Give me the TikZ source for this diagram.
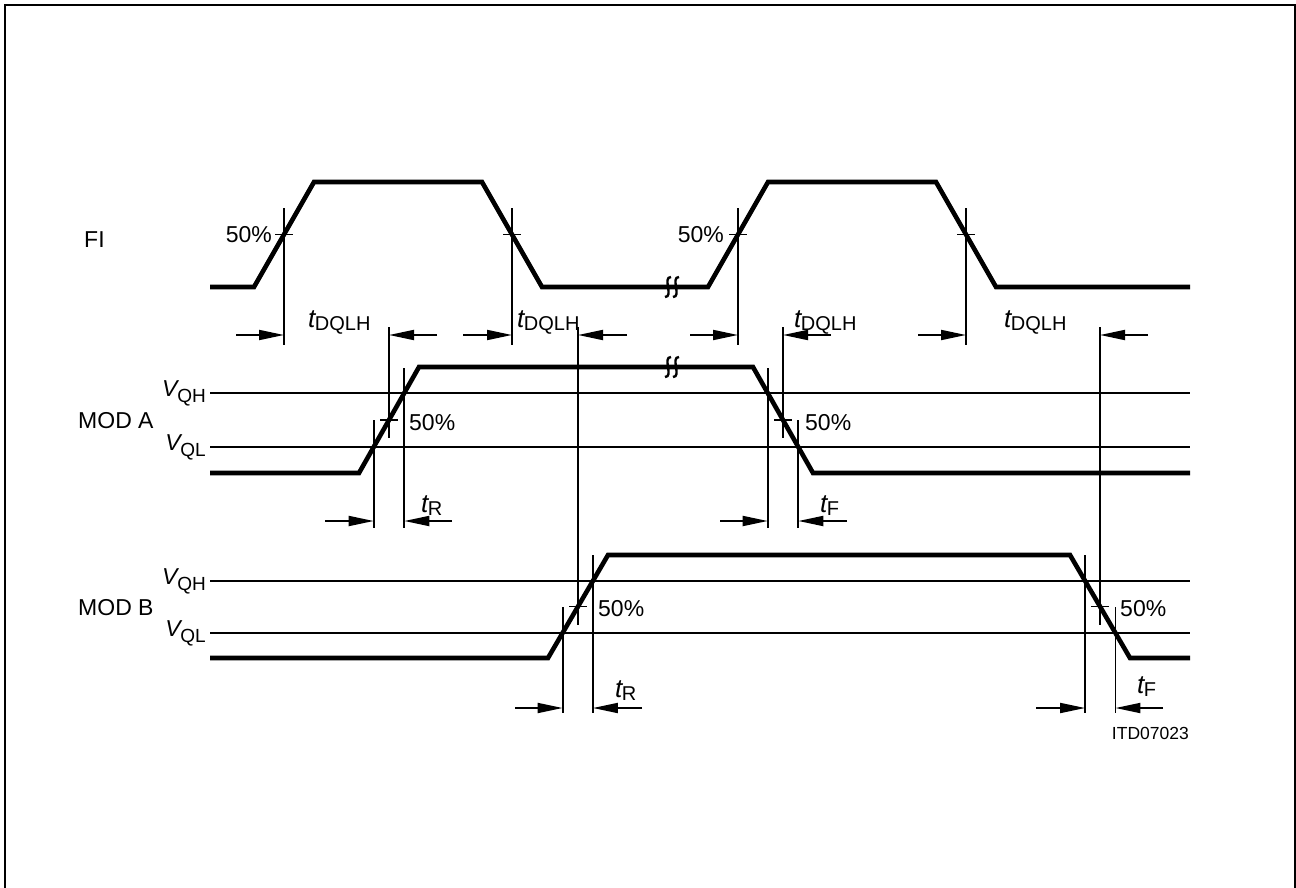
\documentclass[tikz,border=0pt]{standalone}
\usepackage{fontspec}
\setmainfont{Liberation Sans}
\usepackage{tikz}
\usetikzlibrary{arrows.meta}

\newcommand{\tlabel}[1]{{\fontsize{26pt}{26pt}\selectfont\itshape t}\kern-0.5pt\raisebox{-3pt}{\fontsize{20pt}{20pt}\selectfont #1}}
\newcommand{\vlabel}[1]{\textit{V}\kern-2pt\raisebox{-6pt}{\fontsize{19pt}{19pt}\selectfont #1}}

\begin{document}
\begin{tikzpicture}[
    x=1pt, y=-1pt,
    font=\fontsize{23pt}{25pt}\selectfont,
    % Styles
    wave/.style={
        line width=4.6pt,
        line join=miter
      },
    guide/.style={
        line width=1.8pt
      },
    dimarrow/.style={
        guide,
        -{Triangle[length=25pt, width=10pt]}
      },
    lbl/.style={
        inner sep=0pt
      },
    breakmark/.pic={
        \draw[line width=2.4pt] (-1,-10) .. controls (-10,-10) and (2,10) .. (-7,10);
        \draw[line width=2.4pt] (7,-10) .. controls (-2,-10) and (10,10) .. (1,10);
      }
  ]
  \useasboundingbox (0,0) rectangle (1296,888);

  % Frame
  \draw[line width=2pt] (5,888) -- (5,5) -- (1295,5) -- (1295,888);

  % Signal names
  \node[lbl, anchor=west] (fi) at (84,240) {FI};
  \node[lbl, anchor=west] (moda) at (78,421) {MOD A};
  \node[lbl, anchor=west] (modb) at (78,608) {MOD B};

  % Threshold levels
  \node[lbl, anchor=east] (vqha) at (206,393) {\vlabel{QH}};
  \node[lbl, anchor=east] (vqla) at (206,447) {\vlabel{QL}};
  \node[lbl, anchor=east] (vqhb) at (206,581) {\vlabel{QH}};
  \node[lbl, anchor=east] (vqlb) at (206,633) {\vlabel{QL}};
  \draw[guide] (210,393) -- (1190,393);
  \draw[guide] (210,447) -- (1190,447);
  \draw[guide] (210,581) -- (1190,581);
  \draw[guide] (210,633) -- (1190,633);

  % Waveforms
  \draw[wave] (210,287) -- (254,287) -- (314,182) -- (482,182) -- (542,287)
    -- (708,287) -- (768,182) -- (936,182) -- (996,287) -- (1190,287);
  \draw[wave] (210,473) -- (359,473) -- (419,367) -- (753,367) -- (813,473)
    -- (1190,473);
  \draw[wave] (210,658) -- (548,658) -- (608,555) -- (1070,555) -- (1130,658)
    -- (1190,658);
  \pic at (672,287) {breakmark};
  \pic at (672,367) {breakmark};

  % FI 50% marks
  \foreach \x in {284,512,738,966} {
      \draw[guide] (\x,208) -- (\x,345);
      \draw[guide] (\x-9,234.5) -- (\x+9,234.5);
    }
  \node[lbl, anchor=east] (fi50a) at (272,235) {50\%};
  \node[lbl, anchor=east] (fi50b) at (724,235) {50\%};

  % MOD 50% marks
  \foreach \x/\ytop/\ybot in {389/327/438, 783/327/438, 578/327/625, 1100/327/625} {
      \draw[guide] (\x,\ytop) -- (\x,\ybot);
    }
  \foreach \x/\y in {389/420, 783/420, 578/606.5, 1100/606.5} {
      \draw[guide] (\x-9,\y) -- (\x+9,\y);
    }
  \node[lbl, anchor=west] (ma50a) at (409,423) {50\%};
  \node[lbl, anchor=west] (ma50b) at (805,423) {50\%};
  \node[lbl, anchor=west] (mb50a) at (598,609) {50\%};
  \node[lbl, anchor=west] (mb50b) at (1120,609) {50\%};

  % Threshold crossings
  \draw[guide] (373.7,420) -- (373.7,528);
  \draw[guide] (404.3,368) -- (404.3,528);
  \draw[guide] (767.7,368) -- (767.7,528);
  \draw[guide] (798.3,420) -- (798.3,528);
  \draw[guide] (562.6,607) -- (562.6,713);
  \draw[guide] (592.9,555) -- (592.9,713);
  \draw[guide] (1085.1,555) -- (1085.1,713);
  \draw[guide] (1115.4,607) -- (1115.4,713);

  % Delay times
  \draw[dimarrow] (236,335) -- (284,335);
  \draw[dimarrow] (437,335) -- (389,335);
  \draw[dimarrow] (463,335) -- (512,335);
  \draw[dimarrow] (627,335) -- (578,335);
  \draw[dimarrow] (690,335) -- (738,335);
  \draw[dimarrow] (831,335) -- (783,335);
  \draw[dimarrow] (918,335) -- (966,335);
  \draw[dimarrow] (1148,335) -- (1100,335);
  \node[lbl, anchor=base west] (td1) at (308,327) {\tlabel{DQLH}};
  \node[lbl, anchor=base west] (td2) at (517,327) {\tlabel{DQLH}};
  \node[lbl, anchor=base west] (td3) at (794,327) {\tlabel{DQLH}};
  \node[lbl, anchor=base west] (td4) at (1004,327) {\tlabel{DQLH}};

  % Rise and fall times
  \draw[dimarrow] (325,521) -- (373.7,521);
  \draw[dimarrow] (452,521) -- (404.3,521);
  \draw[dimarrow] (720,521) -- (767.7,521);
  \draw[dimarrow] (847,521) -- (798.3,521);
  \draw[dimarrow] (515,708) -- (562.6,708);
  \draw[dimarrow] (642,708) -- (592.9,708);
  \draw[dimarrow] (1036,708) -- (1085.1,708);
  \draw[dimarrow] (1163,708) -- (1115.4,708);
  \node[lbl, anchor=base west] (tra) at (421,512) {\tlabel{R}};
  \node[lbl, anchor=base west] (tfa) at (820,512) {\tlabel{F}};
  \node[lbl, anchor=base west] (trb) at (615,697) {\tlabel{R}};
  \node[lbl, anchor=base west] (tfb) at (1137,693) {\tlabel{F}};

  % Drawing code
  \node[lbl, anchor=east, font=\fontsize{17.5pt}{18pt}\selectfont] (code) at (1189,733) {ITD07023};
\end{tikzpicture}
\end{document}
